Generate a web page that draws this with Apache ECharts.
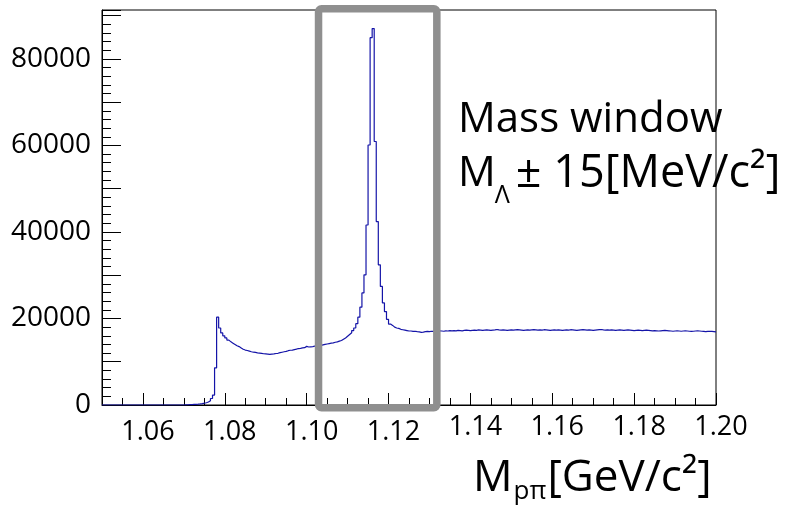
<!DOCTYPE html>
<html><head><meta charset="utf-8">
<script src="https://cdn.jsdelivr.net/npm/echarts@6/dist/echarts.min.js"></script>
<style>html,body{margin:0;padding:0;background:#fff}#c{width:787px;height:515px}</style>
</head><body><div id="c"></div>
<script>
// Histogram: M(p pi) invariant mass, 300 bins from 1.05 to 1.20 GeV/c^2
const binLow = 1.05;
const binWidth = 0.0005;
const counts = [
0,0,0,0,0,0,0,0,0,0,
0,0,0,0,0,0,0,0,0,0,
0,0,0,0,0,0,0,0,0,0,
0,0,0,0,0,0,0,0,0,0,
30,60,80,100,130,160,200,260,330,420,
520,700,1000,1500,2300,8600,20300,17800,16650,16000,
15500,15000,14600,14300,14000,13700,13500,13200,12900,12700,
12600,12450,12300,12200,12150,12050,12000,11950,11850,11800,
11750,11700,11750,11800,11900,11950,12100,12200,12300,12400,
12550,12650,12700,12800,12900,13050,13100,13200,13250,13550,
13400,13450,13500,13600,13700,13750,13800,13900,14000,14100,
14200,14300,14350,14500,14600,14750,14900,15200,15500,15900,
16300,16700,17200,17800,18800,20300,22600,25900,30100,41600,
60100,84900,87000,60900,42400,32400,27400,23600,21600,19800,
18700,18400,18000,17800,17700,17500,17400,17300,17200,17100,
17100,17000,17050,16950,16900,16800,16850,16950,17000,16950,
17050,17000,17100,17050,17150,17100,17050,17150,17100,17200,
17150,17200,17150,17250,17200,17150,17250,17300,17250,17200,
17250,17300,17250,17350,17300,17250,17300,17350,17300,17250,
17300,17350,17450,17350,17300,17350,17300,17250,17300,17350,
17300,17350,17400,17350,17300,17250,17300,17350,17300,17350,
17400,17350,17300,17350,17300,17400,17350,17300,17250,17300,
17350,17300,17350,17300,17250,17300,17350,17300,17400,17350,
17300,17250,17300,17350,17400,17350,17300,17350,17300,17250,
17300,17350,17400,17450,17350,17300,17350,17300,17350,17300,
17250,17300,17350,17300,17250,17300,17350,17300,17250,17200,
17250,17300,17250,17200,17250,17300,17250,17200,17150,17200,
17150,17100,17150,17200,17250,17200,17150,17100,17050,17100,
17150,17100,17050,17100,17150,17100,17050,17000,17050,17100,
17150,17100,17050,17000,16950,17000,17050,17000,16950,16900
];
const xMin = 1.05, xMax = 1.20, xMinorStep = 0.005;
const yMin = 0, yMax = 91300;
const xTickLabels = [1.06, 1.08, 1.10, 1.12, 1.14, 1.16, 1.18, 1.20];
const yTickLabels = [0, 20000, 40000, 60000, 80000];
const windowRange = [1.1029, 1.1318];
const annotationLine1 = 'Mass window';
const annotationLine2 = ['M', 'Λ', '± 15[MeV/c²]'];
const xTitle = ['M', 'pπ', '[GeV/c²]'];

const FF = "'Open Sans'";
const data = counts.map((v, i) => [+(binLow + i * binWidth).toFixed(4), v]);
data.push([+(binLow + counts.length * binWidth).toFixed(4), counts[counts.length - 1]]);

const nSteps = Math.round((xMax - xMin) / xMinorStep);
const xCats = [];
for (let k = 0; k <= nSteps; k++) xCats.push((xMin + k * xMinorStep).toFixed(3));
const isLabelled = v => xTickLabels.some(t => Math.abs(t - (+v)) < 1e-6);

const option = {
  animation: false,
  textStyle: { fontFamily: FF },
  grid: { left: 102, right: 71, top: 10, bottom: 110, show: true, borderColor: '#000', borderWidth: 1, containLabel: false, outerBoundsMode: 'none' },
  xAxis: [
    {
      type: 'value', min: xMin, max: xMax, interval: xMinorStep, position: 'bottom',
      axisLine: { show: true, onZero: false, lineStyle: { color: '#000', width: 1 } },
      splitLine: { show: false },
      axisTick: { show: true, inside: true, length: 7, lineStyle: { color: '#000' } },
      axisLabel: {
        show: true, color: '#000', fontSize: 27, fontFamily: FF, margin: 9,
        formatter: v => isLabelled(v) ? ((+v) < 1.13 ? '{lo|' : '{hi|') + (+v).toFixed(2) + '}' : '',
        rich: {
          lo: { fontSize: 27, fontFamily: FF, color: '#000', padding: [5, 0, 0, 10] },
          hi: { fontSize: 27, fontFamily: FF, color: '#000', padding: [0, 0, 0, 10] }
        }
      }
    },
    {
      type: 'category', data: xCats, boundaryGap: false, position: 'bottom',
      axisLine: { show: false },
      splitLine: { show: false },
      axisTick: { show: true, inside: true, length: 12, interval: (i, v) => isLabelled(v), lineStyle: { color: '#000' } },
      axisLabel: { show: false }
    }
  ],
  yAxis: [
    {
      type: 'value', min: yMin, max: yMax, interval: 2000, position: 'left',
      axisLine: { show: true, onZero: false, lineStyle: { color: '#000', width: 1 } },
      axisTick: { show: true, inside: true, length: 9, lineStyle: { color: '#000' } },
      splitLine: { show: false },
      axisLabel: {
        show: true, color: '#000', fontSize: 28, fontFamily: FF, margin: 11, padding: [4, 0, 0, 0],
        formatter: v => yTickLabels.some(t => Math.abs(t - v) < 1e-6) ? String(Math.round(v)) : ''
      }
    },
    {
      type: 'value', min: yMin, max: yMax, interval: 10000, position: 'left', offset: 0,
      axisLine: { show: false },
      axisTick: { show: true, inside: true, length: 19, lineStyle: { color: '#000' } },
      splitLine: { show: false },
      axisLabel: { show: false }
    }
  ],
  series: [{
    type: 'line', step: 'end', data: data, symbol: 'none', xAxisIndex: 0, yAxisIndex: 0,
    lineStyle: { color: '#1414a8', width: 1.2 }, clip: true
  }]
};
const chart = echarts.init(document.getElementById('c'), null, { renderer: 'canvas' });
chart.setOption(option);

const cx = document.createElement('canvas').getContext('2d');
function tw(t, size) { cx.font = size + 'px ' + FF; return cx.measureText(t).width; }

const px0 = chart.convertToPixel({ xAxisIndex: 0 }, windowRange[0]);
const px1 = chart.convertToPixel({ xAxisIndex: 0 }, windowRange[1]);
const pyTop = chart.convertToPixel({ yAxisIndex: 0 }, yMax);
const pyBot = chart.convertToPixel({ yAxisIndex: 0 }, yMin);

function txt(t, x, y, size) {
  return { type: 'text', z: 110, style: { text: t, x: x, y: y, font: size + 'px ' + FF, fill: '#000',
    textAlign: 'left', textVerticalAlign: 'middle', align: 'left', verticalAlign: 'middle' } };
}
const aX = 458, a1Y = 120, a2Y = 174;
const mW = tw(annotationLine2[0], 42);
const lamX = aX + mW - 1;
const lamW = tw(annotationLine2[1], 25);
const tX = 473, tY = 478, tS = 44, tSub = 26;
const tmW = tw(xTitle[0], tS);
const subW = tw(xTitle[1], tSub);

chart.setOption({
  graphic: [
    { type: 'rect', z: 100, shape: { x: px0, y: pyTop - 1.3, width: px1 - px0, height: pyBot - pyTop + 4, r: 3 },
      style: { fill: 'none', stroke: '#8f8f8f', lineWidth: 7.5 } },
    txt(annotationLine1, aX, a1Y, 42),
    txt(annotationLine2[0], aX, a2Y, 42),
    txt(annotationLine2[1], lamX, a2Y + 22, 25),
    txt(annotationLine2[2], lamX + lamW + 6, a2Y, 45),
    txt(xTitle[0], tX, tY, tS),
    txt(xTitle[1], tX + tmW + 1, tY + 14, tSub),
    txt(xTitle[2], tX + tmW + subW + 2, tY, tS)
  ]
});
</script>
</body></html>
